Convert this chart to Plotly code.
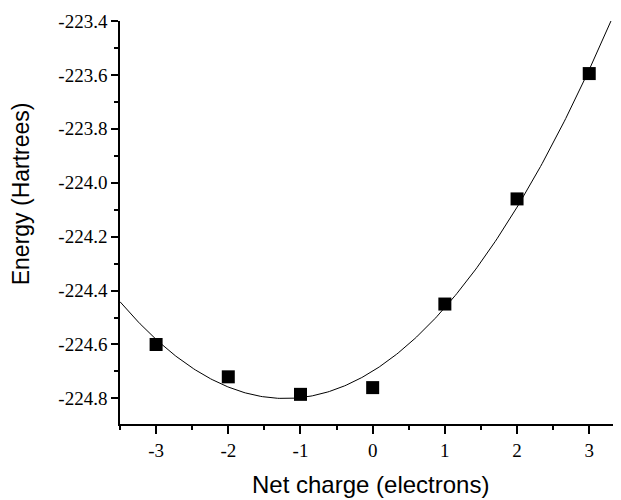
import numpy as np
import plotly.graph_objects as go

charge = [-3, -2, -1, 0, 1, 2, 3]
energy = [-224.60, -224.72, -224.785, -224.76, -224.45, -224.06, -223.595]

x_tickvals = [-3, -2, -1, 0, 1, 2, 3]
x_ticktext = ["-3", "-2", "-1", "0", "1", "2", "3"]
y_tickvals = [-224.8, -224.6, -224.4, -224.2, -224.0, -223.8, -223.6, -223.4]
y_ticktext = ["-224.8", "-224.6", "-224.4", "-224.2", "-224.0", "-223.8", "-223.6", "-223.4"]

x_range = [-3.5, 3.44]
y_range = [-224.895, -223.4]

coef = np.polyfit(charge, energy, 2)
xf = np.linspace(x_range[0], x_range[1], 300)
yf = np.polyval(coef, xf)

fig = go.Figure()
fig.add_trace(go.Scatter(x=xf, y=yf, mode="lines",
                         line=dict(color="black", width=1), showlegend=False))
fig.add_trace(go.Scatter(x=charge, y=energy, mode="markers",
                         marker=dict(symbol="square", size=13, color="black"),
                         showlegend=False))

tickfont = dict(family="Liberation Serif", size=19, color="black")

# page body has an 8px default margin, so the figure is shrunk by 8px
fig.update_layout(
    width=613, height=492,
    margin=dict(l=112, r=0, t=13, b=76),
    plot_bgcolor="white", paper_bgcolor="white",
    xaxis=dict(range=x_range, showline=True, linecolor="black", linewidth=1.5,
               showgrid=False, zeroline=False, ticks="outside", ticklen=8,
               tickwidth=1.5, tickcolor="black",
               tickvals=x_tickvals, ticktext=x_ticktext,
               tickfont=tickfont, ticklabelstandoff=0, automargin=False,
               minor=dict(ticks="outside", ticklen=4, dtick=0.5, tick0=0,
                          tickcolor="black", tickwidth=1.5)),
    yaxis=dict(range=y_range, showline=True, linecolor="black", linewidth=1.5,
               showgrid=False, zeroline=False, ticks="outside", ticklen=7,
               tickwidth=1.5, tickcolor="black",
               tickvals=y_tickvals, ticktext=y_ticktext,
               tickfont=tickfont, automargin=False,
               minor=dict(ticks="outside", ticklen=4, dtick=0.1, tick0=-223.4,
                          tickcolor="black", tickwidth=1.5)),
    annotations=[
        dict(text="Net charge (electrons)", xref="paper", yref="paper",
             x=0.5, y=-0.151, xanchor="center", yanchor="middle",
             showarrow=False,
             font=dict(family="Liberation Sans", size=24, color="black")),
        dict(text="Energy (Hartrees)", xref="paper", yref="paper",
             x=-0.196, y=0.572, xanchor="center", yanchor="middle",
             textangle=-90, showarrow=False,
             font=dict(family="Liberation Sans", size=23, color="black")),
    ],
)

fig.write_html("out.html")
